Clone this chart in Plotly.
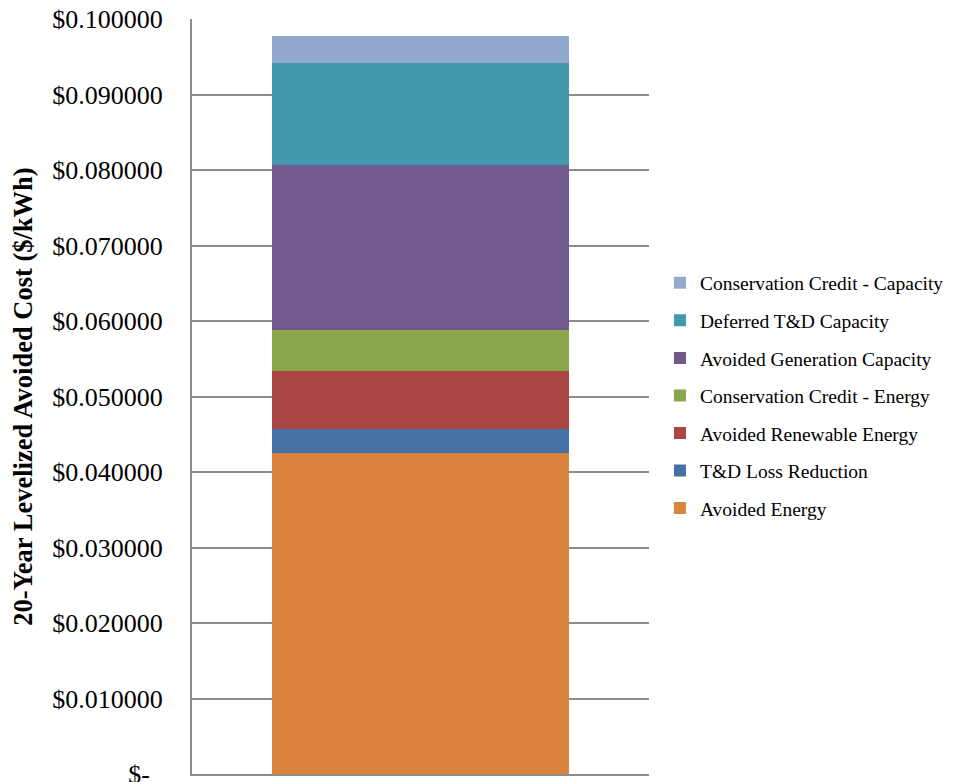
import plotly.graph_objects as go

categories = [""]
series_names = [
    "Avoided Energy",
    "T&D Loss Reduction",
    "Avoided Renewable Energy",
    "Conservation Credit - Energy",
    "Avoided Generation Capacity",
    "Deferred T&D Capacity",
    "Conservation Credit - Capacity",
]
series_values = [0.04253, 0.00318, 0.00769, 0.00543, 0.02186, 0.01352, 0.00358]
series_colors = ["#DB843D", "#4571A6", "#AA4644", "#8BA54D", "#72598D", "#4398AE", "#93A9CF"]

tick_vals = [0, 0.01, 0.02, 0.03, 0.04, 0.05, 0.06, 0.07, 0.08, 0.09, 0.10]
tick_text = ["$-\u00a0\u00a0"] + ["$%.6f" % v for v in tick_vals[1:]]

fig = go.Figure()
for i, (name, val, col) in enumerate(zip(series_names, series_values, series_colors)):
    fig.add_trace(go.Bar(x=categories, y=[val], name=name, marker_color=col,
                         marker_line_width=0, legendgroup=name, legendrank=100 - i))

font_family = "Liberation Serif, Times New Roman, serif"
fig.update_layout(
    barmode="stack",
    bargap=0.352,
    width=960, height=782,
    margin=dict(l=192, r=311, t=19, b=8),
    plot_bgcolor="white", paper_bgcolor="white",
    font=dict(family=font_family, color="black"),
    showlegend=True,
    legend=dict(
        traceorder="grouped", tracegroupgap=9.2,
        x=1.024, xanchor="left", y=0.676, yanchor="top",
        font=dict(size=19.5, family=font_family), itemwidth=30,
    ),
    yaxis=dict(
        range=[0, 0.1], tickvals=tick_vals, ticktext=tick_text,
        showgrid=True, gridcolor="#8c8c8c", gridwidth=1.5,
        showline=True, linecolor="#8c8c8c", linewidth=2,
        ticks="", tickfont=dict(size=26, family=font_family), ticklabelstandoff=22,
        ticklabeloverflow="allow",
        title=dict(text="<b>20-Year Levelized Avoided Cost ($/kWh)</b>",
                   font=dict(size=26.5, family=font_family), standoff=12),
        zeroline=False, automargin=False,
    ),
    xaxis=dict(
        showticklabels=False, showline=True, linecolor="#8c8c8c", linewidth=2,
        showgrid=False, ticks="",
    ),
)

fig.write_html("out.html", config={"displayModeBar": False},
               post_script="document.body.style.margin='0';")
